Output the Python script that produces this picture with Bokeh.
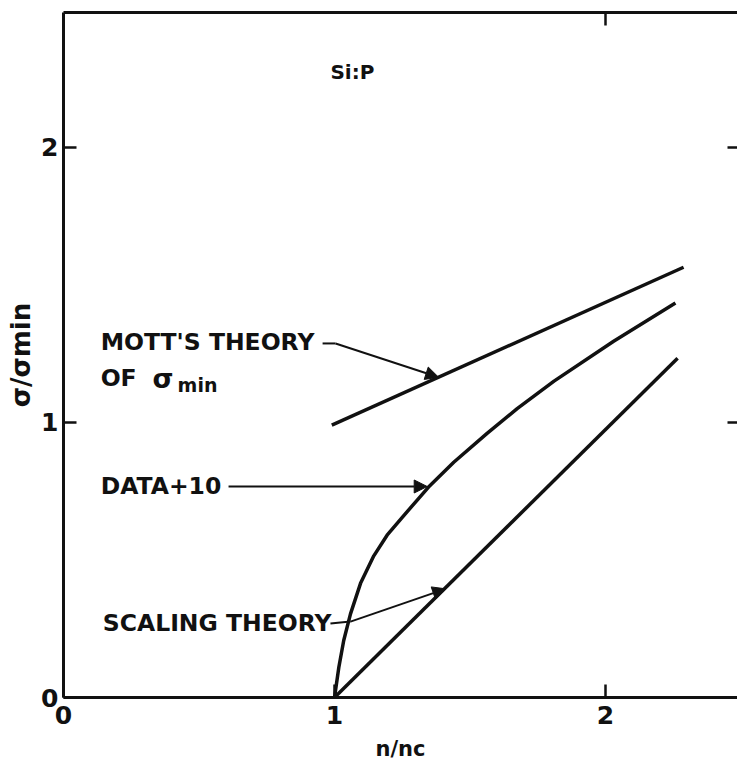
from bokeh.plotting import figure
from bokeh.models import LinearAxis, FixedTicker, Arrow, NormalHead, Range1d
from bokeh.core.properties import value
from bokeh.embed import file_html
from bokeh.resources import INLINE

# ---- data ----
mott_x = [0.99, 2.288]
mott_y = [0.99, 1.564]

data_x = [1.0, 1.016, 1.034, 1.059, 1.096, 1.145, 1.194, 1.25, 1.347, 1.44, 1.563, 1.674, 1.81, 2.03, 2.258]
data_y = [0.0, 0.11, 0.207, 0.304, 0.415, 0.515, 0.59, 0.655, 0.765, 0.855, 0.96, 1.05, 1.15, 1.295, 1.434]

scal_x = [1.0, 2.266]
scal_y = [0.0, 1.233]

x_ticks = [0, 1, 2]
y_ticks = [0, 1, 2]

FONT = "DejaVu Sans"
INK = "#111111"

p = figure(width=737, height=763, output_backend="svg", toolbar_location=None,
           x_range=Range1d(0, 2.487), y_range=Range1d(0, 2.49),
           min_border_left=63, min_border_bottom=66, min_border_top=12, min_border_right=0)
p.outline_line_color = None
p.xgrid.visible = False
p.ygrid.visible = False
p.background_fill_color = "white"
p.border_fill_color = "white"

def style_axis(ax, ticks, labels=True):
    ax.ticker = FixedTicker(ticks=ticks, minor_ticks=[])
    ax.axis_line_width = 3
    ax.axis_line_color = INK
    ax.major_tick_line_width = 2.5
    ax.major_tick_line_color = INK
    ax.major_tick_in = 13
    ax.major_tick_out = 0
    ax.minor_tick_line_color = None
    ax.major_label_text_font = FONT
    ax.major_label_text_font_style = "bold"
    ax.major_label_text_color = INK
    if labels:
        ax.major_label_text_font_size = "25px"
    else:
        ax.major_label_overrides = {t: "" for t in ticks}
        ax.major_label_text_font_size = "1px"
        ax.major_label_standoff = 0

style_axis(p.xaxis[0], x_ticks)
style_axis(p.yaxis[0], y_ticks)
p.xaxis[0].major_label_standoff = 8
p.yaxis[0].major_label_standoff = 5

p.xaxis[0].axis_label = "n/nc"
p.xaxis[0].axis_label_text_font = FONT
p.xaxis[0].axis_label_text_font_style = "bold"
p.xaxis[0].axis_label_text_font_size = "21px"
p.xaxis[0].axis_label_text_color = INK
p.xaxis[0].axis_label_standoff = 10

p.yaxis[0].axis_label = "σ/σmin"
p.yaxis[0].axis_label_text_font = FONT
p.yaxis[0].axis_label_text_font_style = "bold"
p.yaxis[0].axis_label_text_font_size = "26px"
p.yaxis[0].axis_label_text_color = INK
p.yaxis[0].axis_label_standoff = 2

top = LinearAxis()
style_axis(top, [2], labels=False)
p.add_layout(top, "above")

right = LinearAxis()
style_axis(right, [1, 2], labels=False)
right.axis_line_color = None
right.major_tick_in = 10
p.add_layout(right, "right")

# ---- curves ----
p.line(mott_x, mott_y, line_width=3.5, line_color=INK)
p.line(data_x, data_y, line_width=3.5, line_color=INK, line_join="round")
p.line(scal_x, scal_y, line_width=3.5, line_color=INK)

# ---- annotation texts ----
txt = dict(text_font=value(FONT), text_font_style="bold", text_align="left",
           text_baseline="middle", text_color=INK)
p.text(x=[1.066], y=[2.275], text=["Si:P"], text_font_size="20px",
       **{**txt, "text_align": "center"})
p.text(x=[0.137, 0.137, 0.137, 0.145], y=[1.291, 1.16, 0.767, 0.269],
       text=["MOTT'S THEORY", "OF", "DATA+10", "SCALING THEORY"],
       text_font_size="23.5px", **txt)
p.text(x=[0.328], y=[1.16], text=["σ"], text_font_size="27px", **txt)
p.text(x=[0.421], y=[1.135], text=["min"], text_font_size="19px", **txt)

# ---- leader lines with arrows ----
head = dict(size=13, fill_color=INK, line_color=INK)
p.line([0.956, 1.004], [1.287, 1.287], line_width=2, line_color=INK)
p.add_layout(Arrow(end=NormalHead(**head), x_start=1.004, y_start=1.287, x_end=1.384, y_end=1.164,
                   line_width=2, line_color=INK))
p.add_layout(Arrow(end=NormalHead(**head), x_start=0.609, y_start=0.767, x_end=1.342, y_end=0.767,
                   line_width=2, line_color=INK))
p.line([0.985, 1.059], [0.269, 0.276], line_width=2, line_color=INK)
p.add_layout(Arrow(end=NormalHead(**head), x_start=1.059, y_start=0.276, x_end=1.41, y_end=0.395,
                   line_width=2, line_color=INK))

open("out.html", "w").write(file_html(p, INLINE))
